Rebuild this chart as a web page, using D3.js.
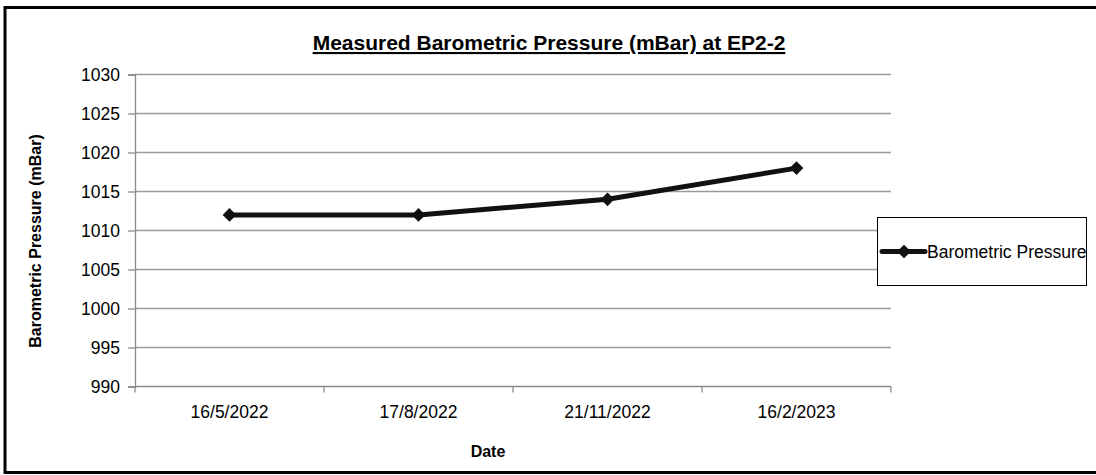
<!DOCTYPE html>
<html>
<head>
<meta charset="utf-8">
<script src="https://cdn.jsdelivr.net/npm/d3@7"></script>
<style>
  body { margin: 0; background: #fff; overflow: hidden; }
  svg { display: block; }
  svg text { font-family: "Liberation Sans", Arial, sans-serif; }
</style>
</head>
<body>
<div id="chart"></div>
<script>
// chart data
const dates = ['16/5/2022', '17/8/2022', '21/11/2022', '16/2/2023'];
const pressure = [1012, 1012, 1014, 1018];
const yTicks = [990, 995, 1000, 1005, 1010, 1015, 1020, 1025, 1030];
const seriesName = 'Barometric Pressure';

const width = 1096, height = 475;
const plot = {left: 135, right: 891, top: 74.5, bottom: 386.5};

let svg = d3.select('#chart')
  .append('svg')
    .attr('width', width)
    .attr('height', height);

// outer frame (right edge falls outside the picture)
svg.append('rect')
  .attr('x', 5).attr('y', 7.5)
  .attr('width', 1100).attr('height', 465)
  .attr('fill', 'none')
  .attr('stroke', '#000')
  .attr('stroke-width', 3);

let x = d3.scaleBand()
  .domain(dates)
  .range([plot.left, plot.right]);

let y = d3.scaleLinear()
  .domain([990, 1030])
  .range([plot.bottom, plot.top]);

// gridlines
svg.append('g')
  .attr('class', 'grid')
  .selectAll('line')
  .data(yTicks.slice(1))
  .enter().append('line')
    .attr('x1', plot.left).attr('x2', plot.right)
    .attr('y1', (d) => y(d)).attr('y2', (d) => y(d))
    .attr('stroke', '#9a9a9a')
    .attr('stroke-width', 1.3);

// y axis
let yAxis = svg.append('g')
  .attr('transform', 'translate(' + plot.left + ',0)')
  .call(d3.axisLeft(y).tickValues(yTicks).tickSize(7).tickPadding(8).tickFormat(d3.format('d')));
yAxis.select('.domain').attr('stroke', '#8a8a8a').attr('stroke-width', 1.3);
yAxis.selectAll('.tick line').attr('stroke', '#8a8a8a').attr('stroke-width', 1.3);
yAxis.selectAll('.tick text')
  .attr('fill', '#000')
  .style('font-size', '17.5px')
  .style('font-family', '"Liberation Sans", Arial, sans-serif');

// x axis with ticks between categories
let xAxis = svg.append('g')
  .attr('transform', 'translate(0,' + plot.bottom + ')');
xAxis.append('line')
  .attr('x1', plot.left).attr('x2', plot.right)
  .attr('stroke', '#8a8a8a').attr('stroke-width', 1.3);
let bounds = dates.map((d) => x(d)).concat([plot.right]);
xAxis.selectAll('.xtick')
  .data(bounds)
  .enter().append('line')
    .attr('x1', (d) => d).attr('x2', (d) => d)
    .attr('y1', 0).attr('y2', 6)
    .attr('stroke', '#8a8a8a').attr('stroke-width', 1.3);
xAxis.selectAll('.xlabel')
  .data(dates)
  .enter().append('text')
    .attr('x', (d) => x(d) + x.bandwidth() / 2)
    .attr('y', 31)
    .attr('text-anchor', 'middle')
    .style('font-size', '17.5px')
    .text((d) => d);

// series line
let line = d3.line()
  .x((d, i) => x(dates[i]) + x.bandwidth() / 2)
  .y((d) => y(d));

svg.append('path')
  .datum(pressure)
  .attr('fill', 'none')
  .attr('stroke', '#111')
  .attr('stroke-width', 5)
  .attr('stroke-linejoin', 'round')
  .attr('d', line);

let diamond = d3.symbol().type(d3.symbolDiamond2).size(120);
svg.append('g')
  .selectAll('path')
  .data(pressure)
  .enter().append('path')
    .attr('d', diamond)
    .attr('fill', '#111')
    .attr('transform', (d, i) => 'translate(' + (x(dates[i]) + x.bandwidth() / 2) + ',' + y(d) + ')');

// title
svg.append('text')
  .attr('x', 549).attr('y', 50)
  .attr('text-anchor', 'middle')
  .style('font-size', '21px')
  .style('font-weight', 'bold')
  .style('text-decoration', 'underline')
  .text('Measured Barometric Pressure (mBar) at EP2-2');

// axis titles
svg.append('text')
  .attr('transform', 'translate(41,241) rotate(-90)')
  .attr('text-anchor', 'middle')
  .style('font-size', '16px')
  .style('font-weight', 'bold')
  .text('Barometric Pressure (mBar)');

svg.append('text')
  .attr('x', 488).attr('y', 457)
  .attr('text-anchor', 'middle')
  .style('font-size', '16px')
  .style('font-weight', 'bold')
  .text('Date');

// legend
let legend = svg.append('g').attr('transform', 'translate(877,217)');
legend.append('rect')
  .attr('x', 0.5).attr('y', 0.5)
  .attr('width', 209).attr('height', 68)
  .attr('fill', '#fff')
  .attr('stroke', '#000')
  .attr('stroke-width', 1);
legend.append('line')
  .attr('x1', 5).attr('x2', 48)
  .attr('y1', 34.5).attr('y2', 34.5)
  .attr('stroke', '#111').attr('stroke-width', 5)
  .attr('stroke-linecap', 'round');
legend.append('path')
  .attr('d', diamond)
  .attr('fill', '#111')
  .attr('transform', 'translate(27,34.5)');
legend.append('text')
  .attr('x', 50).attr('y', 40.5)
  .style('font-size', '17.5px')
  .text(seriesName);
</script>
</body>
</html>
